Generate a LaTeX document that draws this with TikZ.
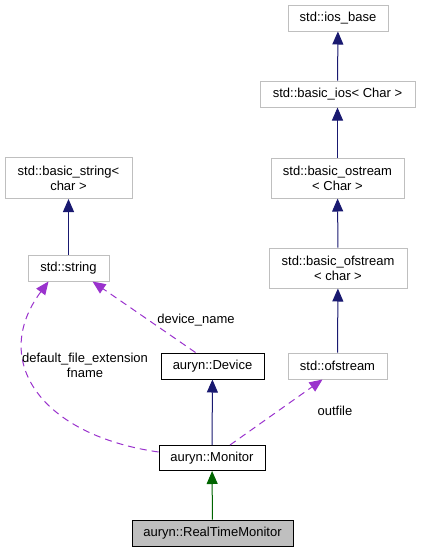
\documentclass[tikz,border=0pt]{standalone}
\usepackage{fontspec}
\setmainfont{Liberation Sans}
\usetikzlibrary{arrows.meta}
\definecolor{inhblue}{HTML}{191970}
\definecolor{inhgreen}{HTML}{006400}
\definecolor{usepurple}{HTML}{9A32CD}
\definecolor{boxgrey}{HTML}{BFBFBF}
\tikzset{
  base/.style={rectangle, inner sep=0pt, align=center, font=\fontsize{13}{15}\selectfont, line width=1pt},
  extcls/.style={base, draw=boxgrey, fill=white},
  cls/.style={base, draw=black, fill=white},
  curcls/.style={base, draw=black, fill=boxgrey},
  inherit/.style={line width=1pt, draw=inhblue, -{Triangle[length=13pt,width=11pt]}},
  pubinh/.style={line width=1pt, draw=inhgreen, -{Triangle[length=13pt,width=11pt]}},
  uses/.style={line width=1pt, draw=usepurple, dash pattern=on 7pt off 5pt, -{Triangle[length=13pt,width=11pt]}},
  lbl/.style={font=\fontsize{13}{15}\selectfont, align=center, inner sep=0pt}
}
\begin{document}
\begin{tikzpicture}[x=1pt,y=-1pt]
  \useasboundingbox (0,0) rectangle (421,552);
  % std classes
  \node[extcls, minimum width=100pt, minimum height=26pt] (iosbase) at (338,18) {std::ios\_base};
  \node[extcls, minimum width=155pt, minimum height=26pt] (basicios) at (337.5,94) {std::basic\_ios< Char >};
  \node[extcls, minimum width=133pt, minimum height=40pt] (ostream) at (337.5,178) {std::basic\_ostream\\< Char >};
  \node[extcls, minimum width=138pt, minimum height=40pt] (bofstream) at (338,268) {std::basic\_ofstream\\< char >};
  \node[extcls, minimum width=99pt, minimum height=26pt] (ofstream) at (337.5,366) {std::ofstream};
  \node[extcls, minimum width=127pt, minimum height=41pt] (bstring) at (68.5,178) {std::basic\_string<\\char >};
  \node[extcls, minimum width=81pt, minimum height=26pt] (string) at (68.5,268) {std::string};
  % auryn classes
  \node[cls, minimum width=103pt, minimum height=26pt] (device) at (212.5,366) {auryn::Device};
  \node[cls, minimum width=106pt, minimum height=25pt] (monitor) at (212,458) {auryn::Monitor};
  \node[curcls, minimum width=161pt, minimum height=26pt] (rtmonitor) at (212.5,533) {auryn::RealTimeMonitor};
  % inheritance
  \draw[inherit] (basicios) -- (iosbase);
  \draw[inherit] (ostream) -- (basicios);
  \draw[inherit] (bofstream) -- (ostream);
  \draw[inherit] (ofstream) -- (bofstream);
  \draw[inherit] (string) -- (bstring);
  \draw[inherit] (monitor) -- (device);
  \draw[pubinh] (rtmonitor) -- (monitor);
  % members
  \draw[uses] (device.north) ++(-17,0) coordinate (dvtop) -- ([xshift=24pt]string.south);
  \draw[uses] (monitor.west) ++(0,-6) coordinate (mnleft) .. controls (40,435) and (-10,360) .. ([xshift=-20pt]string.south);
  \draw[uses] (monitor.north) ++(18,0) coordinate (mntop) -- ([xshift=-15pt]ofstream.south);
  \node[lbl] (lname) at (196,320) {device\_name};
  \node[lbl] (lfile) at (85,365.5) {default\_file\_extension\\fname};
  \node[lbl] (lout) at (335,411) {outfile};
\end{tikzpicture}
\end{document}
